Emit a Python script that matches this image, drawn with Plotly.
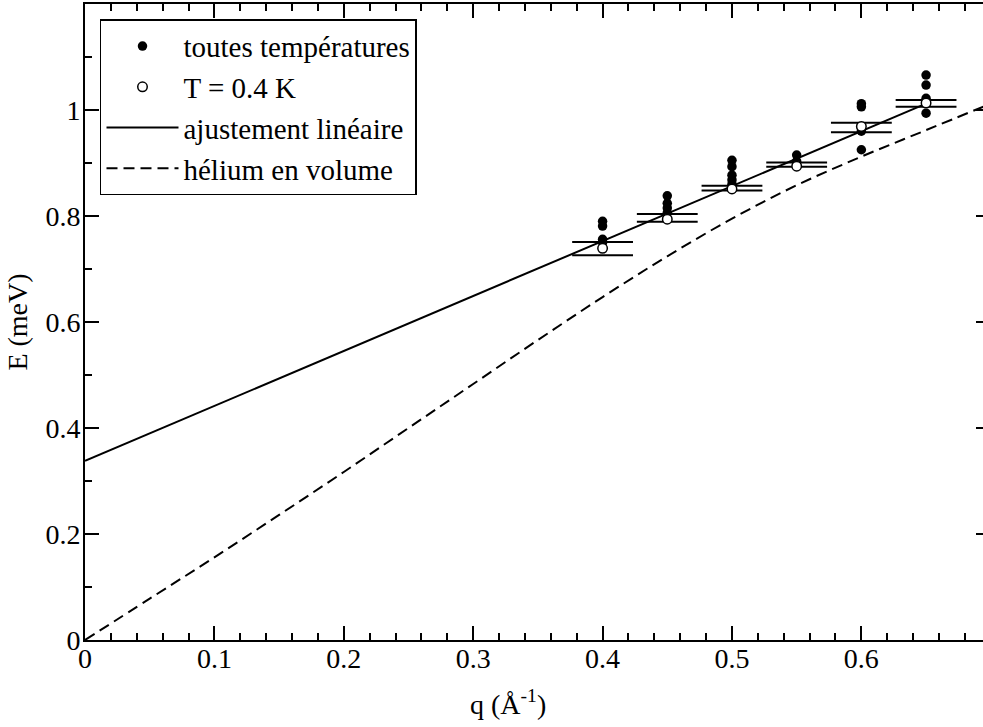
import plotly.graph_objects as go

# --- data ---
q_all = [0.40, 0.40, 0.40, 0.40,
         0.45, 0.45, 0.45, 0.45,
         0.50, 0.50, 0.50, 0.50, 0.50,
         0.55, 0.55,
         0.60, 0.60, 0.60, 0.60,
         0.65, 0.65, 0.65, 0.65]
E_all = [0.790, 0.781, 0.756, 0.750,
         0.838, 0.824, 0.815, 0.806,
         0.905, 0.893, 0.877, 0.868, 0.860,
         0.915, 0.903,
         1.012, 1.006, 0.960, 0.925,
         1.066, 1.047, 1.022, 0.994]

q_T04 = [0.40, 0.45, 0.50, 0.55, 0.60, 0.65]
E_T04 = [0.739, 0.794, 0.851, 0.894, 0.969, 1.013]

E_bar_high = [0.751, 0.804, 0.857, 0.901, 0.976, 1.019]
E_bar_low = [0.726, 0.789, 0.848, 0.893, 0.958, 1.006]
q_halfwidth = 0.0235

q_fit = [0.0, 0.65]
E_fit = [0.338, 1.012]

q_bulk = [0.0, 0.05, 0.10, 0.15, 0.20, 0.25, 0.30, 0.35, 0.40, 0.45, 0.50, 0.55, 0.60, 0.65, 0.70]
E_bulk = [0.0, 0.078, 0.156, 0.236, 0.317, 0.400, 0.483, 0.566, 0.647, 0.724, 0.795, 0.858, 0.912, 0.962, 1.012]

x_ticks = [0, 0.1, 0.2, 0.3, 0.4, 0.5, 0.6]
x_ticklabels = ["0", "0.1", "0.2", "0.3", "0.4", "0.5", "0.6"]
y_ticks = [0, 0.2, 0.4, 0.6, 0.8, 1.0]
y_ticklabels = ["0", "0.2", "0.4", "0.6", "0.8", "1"]

x_title = "q (Å<sup>-1</sup>)"
y_title = "E (meV)"

FONT = "Liberation Serif"

# build horizontal bar segments from the data
bx, by = [], []
for q, lo, hi in zip(q_T04, E_bar_low, E_bar_high):
    for e in (hi, lo):
        bx += [q - q_halfwidth, q + q_halfwidth, None]
        by += [e, e, None]

fig = go.Figure()

fig.add_trace(go.Scatter(x=q_bulk, y=E_bulk, mode="lines", name="hélium en volume",
                         line=dict(color="black", width=2, dash="11px,6px", shape="spline"),
                         legendrank=4))
fig.add_trace(go.Scatter(x=q_fit, y=E_fit, mode="lines", name="ajustement linéaire",
                         line=dict(color="black", width=2), legendrank=3))
fig.add_trace(go.Scatter(x=bx, y=by, mode="lines", showlegend=False,
                         line=dict(color="black", width=2), hoverinfo="skip"))
fig.add_trace(go.Scatter(x=q_all, y=E_all, mode="markers", name="toutes températures",
                         marker=dict(symbol="circle", size=9.5, color="black",
                                     line=dict(width=0)), legendrank=1))
fig.add_trace(go.Scatter(x=q_T04, y=E_T04, mode="markers", name="T = 0.4 K",
                         marker=dict(symbol="circle", size=9.5, color="white",
                                     line=dict(width=1.5, color="black")), legendrank=2))

# invisible trace to host right-side ticks
fig.add_trace(go.Scatter(x=[0], y=[0], yaxis="y2", mode="markers",
                         marker=dict(opacity=0), showlegend=False, hoverinfo="skip"))

fig.update_layout(
    width=983, height=727,
    margin=dict(l=85, r=0, t=4, b=87),
    paper_bgcolor="white", plot_bgcolor="white",
    font=dict(family=FONT, size=28, color="black"),
    showlegend=True,
    legend=dict(x=0.0167, y=0.976, xanchor="left", yanchor="top",
                bordercolor="black", borderwidth=1.5, bgcolor="white",
                font=dict(family=FONT, size=29, color="black"),
                itemwidth=72, tracegroupgap=0),
    xaxis=dict(range=[0, 0.694], showgrid=False, zeroline=False, automargin=False,
               showline=True, linecolor="black", linewidth=2, mirror="ticks",
               ticks="inside", ticklen=14, tickwidth=1.5, tickcolor="black",
               tickmode="array", tickvals=x_ticks, ticktext=x_ticklabels,
               ticklabelstandoff=-8,
               minor=dict(dtick=0.02, tick0=0, ticks="inside", ticklen=7, tickwidth=1.5,
                          tickcolor="black", showgrid=False),
               tickfont=dict(family=FONT, size=28)),
    yaxis=dict(range=[0, 1.2], showgrid=False, zeroline=False, automargin=False,
               showline=True, linecolor="black", linewidth=2,
               ticks="inside", ticklen=14, tickwidth=1.5, tickcolor="black",
               tickmode="array", tickvals=y_ticks, ticktext=y_ticklabels,
               ticklabelstandoff=-3,
               minor=dict(dtick=0.1, tick0=0, ticks="inside", ticklen=7, tickwidth=1.5,
                          tickcolor="black", showgrid=False),
               title=dict(text=y_title, standoff=10,
                          font=dict(family=FONT, size=28)),
               tickfont=dict(family=FONT, size=28)),
    yaxis2=dict(range=[0, 1.2], overlaying="y", side="right", showgrid=False,
                zeroline=False, showline=False, showticklabels=False, automargin=False,
                ticks="inside", ticklen=7, tickwidth=1.5, tickcolor="black",
                tickmode="array", tickvals=y_ticks),
    annotations=[dict(text=x_title, xref="paper", yref="paper", x=0.471, y=-0.098,
                      xanchor="center", yanchor="middle", showarrow=False,
                      font=dict(family=FONT, size=28, color="black"))],
)

fig.write_html("out.html", config={"displayModeBar": False},
               post_script="document.body.style.margin='0';document.body.style.overflow='hidden';")
